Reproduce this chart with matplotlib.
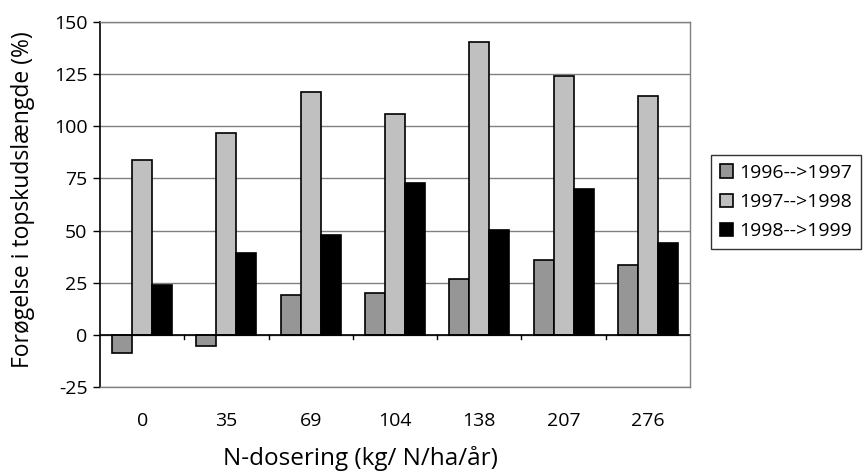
import matplotlib.pyplot as plt
from matplotlib.ticker import FuncFormatter
import numpy as np

plt.rcParams['font.family'] = ['Open Sans', 'DejaVu Sans']

doses = ["0", "35", "69", "104", "138", "207", "276"]
series = ["1996-->1997", "1997-->1998", "1998-->1999"]
v9697 = [-8.5, -5.1, 19.2, 20.1, 26.7, 36.1, 33.7]
v9798 = [83.9, 96.6, 116.6, 106.0, 140.5, 124.2, 114.7]
v9899 = [24.0, 39.4, 48.0, 72.8, 50.3, 70.1, 44.2]
colors = ["#969696", "#c0c0c0", "#000000"]

fig = plt.figure(figsize=(8.68, 4.73), dpi=100)
ax = fig.add_axes([0.1152, 0.1818, 0.6797, 0.7717])

x = np.arange(len(doses))
w = 0.237
for i, (vals, c, lab) in enumerate(zip([v9697, v9798, v9899], colors, series)):
    ax.bar(x + (i - 1) * w, vals, width=w, color=c, edgecolor="black",
           linewidth=1.2, label=lab, zorder=3)

ax.set_xlim(-0.5, len(doses) - 0.5)
ax.set_ylim(-25, 150)
ax.set_yticks(np.arange(-25, 151, 25))
ax.yaxis.set_major_formatter(FuncFormatter(lambda v, p: "%d" % v))
ax.yaxis.grid(True, color="#808080", linewidth=1.0, zorder=0)
ax.set_axisbelow(True)

# x axis crosses at 0
ax.axhline(0, color="black", linewidth=1.2, zorder=4)
for b in np.arange(0.5, len(doses) - 0.5, 1.0):
    ax.plot([b, b], [0, -2.2], color="black", linewidth=1.0, zorder=4, clip_on=False)

ax.set_xticks(x)
ax.set_xticklabels(doses, fontsize=14)
ax.tick_params(axis="x", length=0, pad=18)
ax.tick_params(axis="y", labelsize=14, length=5, width=1.0, direction="out", pad=4)

for s in ["top", "right", "bottom"]:
    ax.spines[s].set_color("#808080")
    ax.spines[s].set_linewidth(1.0)
ax.spines["left"].set_color("black")
ax.spines["left"].set_linewidth(1.2)

ax.set_ylabel("Forøgelse i topskudslængde (%)", fontsize=16.5, va="center")
ax.yaxis.set_label_coords(-0.13, 0.512)
ax.set_xlabel("N-dosering (kg/ N/ha/år)", fontsize=17.5, va="center")
ax.xaxis.set_label_coords(0.442, -0.197)

leg = fig.legend(loc="upper left", bbox_to_anchor=(0.819, 0.672), fontsize=14,
                 frameon=True, fancybox=False, edgecolor="black",
                 handlelength=0.7, handleheight=0.7, handletextpad=0.3,
                 borderpad=0.45, labelspacing=0.58, borderaxespad=0)
leg.get_frame().set_linewidth(1.0)

fig.savefig("out.png", dpi=100)
